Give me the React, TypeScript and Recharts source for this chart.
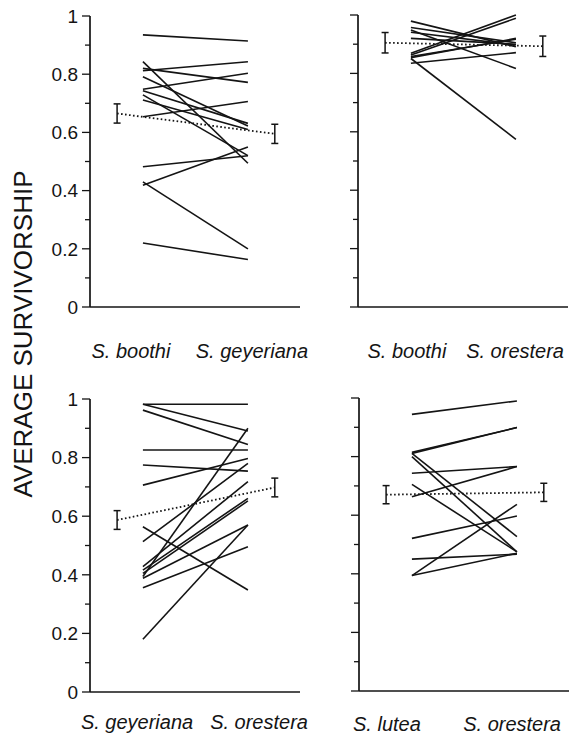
import { LineChart, Line, XAxis, YAxis, ErrorBar } from 'recharts'

// survivorship per population, left species -> right species
const boothiVsGeyeriana = [0.935, 0.812, 0.82, 0.843, 0.791, 0.748, 0.743, 0.729, 0.711, 0.654, 0.482, 0.418, 0.43, 0.22]
const geyerianaVsBoothi = [0.914, 0.843, 0.772, 0.494, 0.622, 0.803, 0.631, 0.52, 0.61, 0.706, 0.52, 0.55, 0.2, 0.163]
const boothiMeans = [0.665, 0.595]
const boothiErrs = [0.033, 0.033]

const boothiVsOrestera = [0.979, 0.957, 0.949, 0.941, 0.92, 0.869, 0.863, 0.858, 0.854, 0.851, 0.835]
const oresteraVsBoothi = [0.891, 0.905, 0.817, 0.897, 0.9, 1.0, 0.989, 0.917, 0.92, 0.574, 0.871]
const boothiOrMeans = [0.905, 0.893]
const boothiOrErrs = [0.035, 0.035]

const geyerianaVsOrestera = [0.982, 0.982, 0.962, 0.826, 0.775, 0.706, 0.564, 0.513, 0.428, 0.416, 0.405, 0.394, 0.388, 0.356, 0.18]
const oresteraVsGeyeriana = [0.982, 0.891, 0.845, 0.826, 0.754, 0.797, 0.348, 0.78, 0.718, 0.661, 0.652, 0.9, 0.57, 0.496, 0.57]
const geyerianaMeans = [0.587, 0.698]
const geyerianaErrs = [0.032, 0.032]

const luteaVsOrestera = [0.944, 0.811, 0.815, 0.811, 0.8, 0.743, 0.663, 0.705, 0.521, 0.45, 0.394, 0.394]
const oresteraVsLutea = [0.99, 0.899, 0.899, 0.527, 0.475, 0.766, 0.766, 0.475, 0.597, 0.467, 0.637, 0.47]
const luteaMeans = [0.67, 0.678]
const luteaErrs = [0.031, 0.031]

const yTicks = [0, 0.1, 0.2, 0.3, 0.4, 0.5, 0.6, 0.7, 0.8, 0.9, 1]

const FONT = '"Liberation Sans", Arial, sans-serif'
const INK = '#141414'
const LEFT_X = 0.252
const RIGHT_X = 0.752
const BAR_L = 0.129
const BAR_R = 0.88

function YTick({ x, y, payload, showLabel }: any) {
    const major = Math.round(payload.value * 10) % 2 === 0
    return (
        <g>
            <line x1={x - (major ? 8 : 5)} x2={x} y1={y} y2={y} stroke={INK} strokeWidth={1.3} />
            {showLabel && major && (
                <text x={x - 12} y={y} dy="0.36em" textAnchor="end" fontSize={19} fontFamily={FONT} fill={INK}>
                    {String(payload.value)}
                </text>
            )}
        </g>
    )
}

function XLabel({ x, y, index, names, dy }: any) {
    return (
        <text x={x} y={y + dy} textAnchor="middle" fontSize={20} fontStyle="italic" fontFamily={FONT} fill={INK}>
            {names[index]}
        </text>
    )
}

type PanelProps = {
    left: number
    top: number
    plotH: number
    marginTop: number
    leftVals: number[]
    rightVals: number[]
    means: number[]
    errs: number[]
    names: string[]
    labelPos: number[]
    labelDy: number
    showYLabels: boolean
}

function Panel(p: PanelProps) {
    const pairs = p.leftVals.map((v, i) => [
        { x: LEFT_X, y: v },
        { x: RIGHT_X, y: p.rightVals[i] },
    ])
    const meanData = [
        { x: BAR_L, y: p.means[0], e: p.errs[0] },
        { x: BAR_R, y: p.means[1], e: p.errs[1] },
    ]
    return (
        <div style={{ position: 'absolute', left: p.left, top: p.top }}>
            <LineChart
                width={260}
                height={p.marginTop + p.plotH + 60}
                margin={{ top: p.marginTop, right: 10, left: 0, bottom: 0 }}
            >
                <XAxis
                    type="number"
                    dataKey="x"
                    domain={[0, 1]}
                    ticks={p.labelPos}
                    interval={0}
                    tickLine={false}
                    tickSize={0}
                    height={60}
                    axisLine={{ stroke: INK, strokeWidth: 1.7 }}
                    tick={<XLabel names={p.names} dy={p.labelDy} />}
                />
                <YAxis
                    type="number"
                    domain={[0, 1]}
                    ticks={yTicks}
                    interval={0}
                    width={40}
                    tickLine={false}
                    tickSize={0}
                    tickMargin={0}
                    axisLine={{ stroke: INK, strokeWidth: 1.7 }}
                    tick={<YTick showLabel={p.showYLabels} />}
                />
                {pairs.map((d, i) => (
                    <Line
                        key={i}
                        data={d}
                        dataKey="y"
                        type="linear"
                        stroke={INK}
                        strokeWidth={1.6}
                        dot={false}
                        activeDot={false}
                        isAnimationActive={false}
                    />
                ))}
                <Line
                    data={meanData}
                    dataKey="y"
                    type="linear"
                    stroke={INK}
                    strokeWidth={1.8}
                    strokeDasharray="1.6 2.4"
                    dot={false}
                    activeDot={false}
                    isAnimationActive={false}
                >
                    <ErrorBar dataKey="e" width={3.5} stroke={INK} strokeWidth={1.5} direction="y" />
                </Line>
            </LineChart>
        </div>
    )
}

export default function App() {
    return (
        <div style={{ position: 'absolute', left: 0, top: 0, width: 572, height: 743, background: '#fff' }}>
            <Panel
                left={50} top={0} plotH={291} marginTop={16}
                leftVals={boothiVsGeyeriana} rightVals={geyerianaVsBoothi}
                means={boothiMeans} errs={boothiErrs}
                names={['S. boothi', 'S. geyeriana']} labelPos={[0.195, 0.771]} labelDy={49}
                showYLabels
            />
            <Panel
                left={318} top={0} plotH={292} marginTop={15}
                leftVals={boothiVsOrestera} rightVals={oresteraVsBoothi}
                means={boothiOrMeans} errs={boothiOrErrs}
                names={['S. boothi', 'S. orestera']} labelPos={[0.233, 0.748]} labelDy={49}
                showYLabels={false}
            />
            <Panel
                left={50} top={383} plotH={293} marginTop={16}
                leftVals={geyerianaVsOrestera} rightVals={oresteraVsGeyeriana}
                means={geyerianaMeans} errs={geyerianaErrs}
                names={['S. geyeriana', 'S. orestera']} labelPos={[0.224, 0.805]} labelDy={35}
                showYLabels
            />
            <Panel
                left={319} top={383} plotH={293} marginTop={15}
                leftVals={luteaVsOrestera} rightVals={oresteraVsLutea}
                means={luteaMeans} errs={luteaErrs}
                names={['S. lutea', 'S. orestera']} labelPos={[0.133, 0.729]} labelDy={38}
                showYLabels={false}
            />
            <svg width={50} height={743} style={{ position: 'absolute', left: 0, top: 0 }}>
                <text
                    transform="translate(32, 334) rotate(-90)"
                    textAnchor="middle"
                    fontSize={26}
                    fontFamily={FONT}
                    fill={INK}
                >
                    AVERAGE SURVIVORSHIP
                </text>
            </svg>
        </div>
    )
}
